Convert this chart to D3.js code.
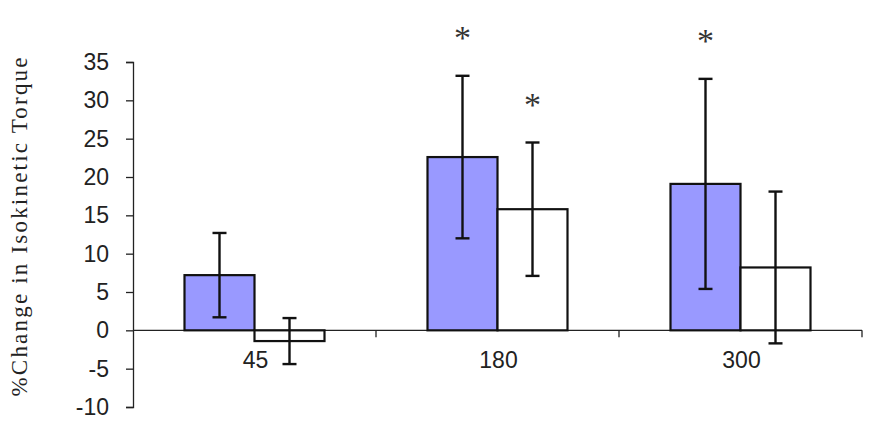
<!DOCTYPE html>
<html>
<head>
  <meta charset="utf-8">
  <script src="https://d3js.org/d3.v7.min.js"></script>
  <style>
    body { margin: 0; background: #fff; }
    .axis text { font-family: "Liberation Sans", Arial, sans-serif; font-size: 23px; fill: #222; }
    .axis path, .axis line { stroke: #222; stroke-width: 1.3; }
  </style>
</head>
<body>
<script>
  // data
  var categories = ["45", "180", "300"];
  var blueMeans = [7.2, 22.6, 19.1];
  var blueErrors = [5.5, 10.6, 13.7];
  var whiteMeans = [-1.4, 15.8, 8.2];
  var whiteErrors = [3.0, 8.7, 9.9];
  var blueStars = [false, true, true];
  var whiteStars = [false, true, false];
  var yTicks = [-10, -5, 0, 5, 10, 15, 20, 25, 30, 35];

  var width = 872, height = 428;
  var plotLeft = 133, plotRight = 862, plotTop = 62, plotBottom = 407;

  var svg = d3.select("body").append("svg")
    .attr("width", width)
    .attr("height", height);

  var y = d3.scaleLinear().domain([-10, 35]).range([plotBottom, plotTop]);

  var x0 = d3.scaleBand().domain(categories).range([plotLeft, plotRight]);
  var bw = x0.bandwidth();
  var groupW = 140;
  var x1 = d3.scaleBand().domain(["blue", "white"])
    .range([(bw - groupW) / 2, (bw + groupW) / 2]);

  // y axis
  svg.append("g")
    .attr("class", "axis")
    .attr("transform", "translate(" + plotLeft + ",0)")
    .call(d3.axisLeft(y).tickValues(yTicks).tickFormat(function(d) { return String(d); })
      .tickSize(7).tickSizeOuter(7).tickPadding(17));

  // zero line with category separators
  svg.append("line")
    .attr("x1", plotLeft).attr("x2", plotRight)
    .attr("y1", y(0)).attr("y2", y(0))
    .attr("stroke", "#222").attr("stroke-width", 1.3);

  svg.selectAll(".sep")
    .data(categories)
    .enter().append("line")
    .attr("class", "sep")
    .attr("x1", function(d) { return x0(d) + bw; })
    .attr("x2", function(d) { return x0(d) + bw; })
    .attr("y1", y(0)).attr("y2", y(0) + 7)
    .attr("stroke", "#222").attr("stroke-width", 1.3);

  // category labels
  svg.selectAll(".cat")
    .data(categories)
    .enter().append("text")
    .attr("class", "cat")
    .attr("x", function(d) { return x0(d) + bw / 2 + 1; })
    .attr("y", y(0) + 38)
    .attr("text-anchor", "middle")
    .style("font-family", "'Liberation Sans', Arial, sans-serif")
    .style("font-size", "23px")
    .style("fill", "#222")
    .text(function(d) { return d; });

  var rows = [];
  categories.forEach(function(c, i) {
    rows.push({ cat: c, key: "blue", v: blueMeans[i], e: blueErrors[i], star: blueStars[i] });
    rows.push({ cat: c, key: "white", v: whiteMeans[i], e: whiteErrors[i], star: whiteStars[i] });
  });

  function cx(d) { return x0(d.cat) + x1(d.key) + x1.bandwidth() / 2; }

  svg.selectAll(".bar")
    .data(rows)
    .enter().append("rect")
    .attr("class", "bar")
    .attr("x", function(d) { return x0(d.cat) + x1(d.key); })
    .attr("width", x1.bandwidth())
    .attr("y", function(d) { return y(Math.max(0, d.v)); })
    .attr("height", function(d) { return Math.abs(y(d.v) - y(0)); })
    .attr("fill", function(d) { return d.key === "blue" ? "#9999ff" : "#fff"; })
    .attr("stroke", "#111")
    .attr("stroke-width", 2.2);

  // error bars
  var err = svg.selectAll(".err")
    .data(rows)
    .enter().append("g")
    .attr("class", "err")
    .attr("stroke", "#111")
    .attr("stroke-width", 2.4);

  err.append("line")
    .attr("x1", cx).attr("x2", cx)
    .attr("y1", function(d) { return y(d.v + d.e); })
    .attr("y2", function(d) { return y(d.v - d.e); });
  err.append("line")
    .attr("x1", function(d) { return cx(d) - 7; })
    .attr("x2", function(d) { return cx(d) + 7; })
    .attr("y1", function(d) { return y(d.v + d.e); })
    .attr("y2", function(d) { return y(d.v + d.e); });
  err.append("line")
    .attr("x1", function(d) { return cx(d) - 7; })
    .attr("x2", function(d) { return cx(d) + 7; })
    .attr("y1", function(d) { return y(d.v - d.e); })
    .attr("y2", function(d) { return y(d.v - d.e); });

  // significance stars
  svg.selectAll(".star")
    .data(rows.filter(function(d) { return d.star; }))
    .enter().append("text")
    .attr("class", "star")
    .attr("x", cx)
    .attr("y", function(d) { return y(d.v + d.e) - 27; })
    .attr("text-anchor", "middle")
    .style("font-family", "'Liberation Serif', 'Times New Roman', serif")
    .style("font-size", "34px")
    .style("fill", "#333")
    .text("*");

  // y axis title
  svg.append("text")
    .attr("transform", "translate(27,227) rotate(-90)")
    .attr("text-anchor", "middle")
    .attr("textLength", 339)
    .attr("lengthAdjust", "spacing")
    .style("font-family", "'Liberation Serif', 'Times New Roman', serif")
    .style("font-size", "23px")
    .style("fill", "#222")
    .text("%Change in Isokinetic Torque");
</script>
</body>
</html>
